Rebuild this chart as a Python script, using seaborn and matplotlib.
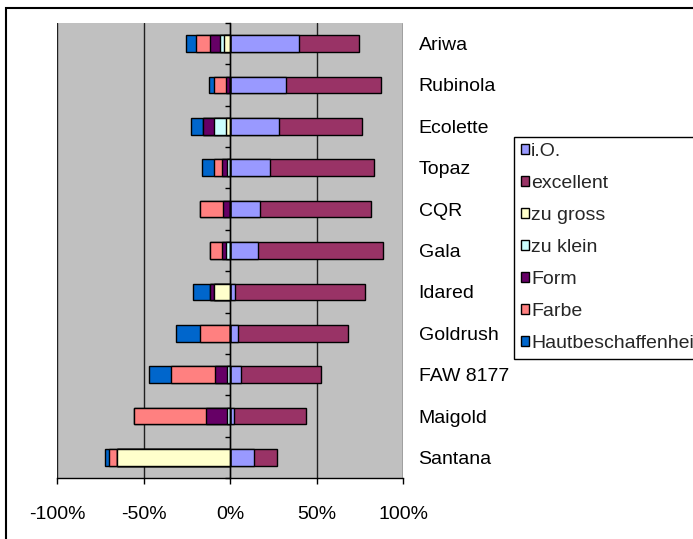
import numpy as np
import pandas as pd
import matplotlib
matplotlib.use("Agg")
import matplotlib.pyplot as plt
from matplotlib.patches import Rectangle
from matplotlib.ticker import FixedLocator, FuncFormatter
import seaborn as sns

# Apple varieties and share of fruit per quality class (percent)
sorten = ["Ariwa", "Rubinola", "Ecolette", "Topaz", "CQR", "Gala", "Idared",
          "Goldrush", "FAW 8177", "Maigold", "Santana"]
io = [39.6, 32.3, 28.3, 22.9, 16.9, 16.2, 2.5, 4.4, 6.3, 2.3, 13.5]
excellent = [34.6, 55.0, 48.1, 60.2, 64.6, 71.9, 75.4, 63.5, 46.2, 41.7, 13.7]
zu_gross = [3.9, 0.0, 2.3, 0.0, 0.0, 0.0, 9.4, 0.0, 0.0, 0.0, 65.4]
zu_klein = [2.0, 0.0, 6.9, 1.9, 0.0, 2.3, 0.0, 0.0, 1.9, 2.1, 0.0]
form = [6.0, 2.3, 6.7, 2.7, 4.4, 2.5, 2.5, 0.0, 6.7, 11.7, 0.0]
farbe = [8.1, 7.3, 0.0, 4.6, 13.3, 7.1, 0.0, 17.7, 25.8, 41.7, 4.8]
haut = [5.8, 2.5, 7.1, 7.3, 0.0, 0.0, 9.8, 13.7, 12.5, 0.0, 2.5]

x_ticks = [-100, -50, 0, 50, 100]

colors = {
    "i.O.": "#9999FF",
    "excellent": "#993366",
    "zu gross": "#FFFFCC",
    "zu klein": "#CCFFFF",
    "Form": "#660066",
    "Farbe": "#FF8080",
    "Hautbeschaffenheit": "#0066CC",
}
legend_order = ["i.O.", "excellent", "zu gross", "zu klein", "Form", "Farbe",
                "Hautbeschaffenheit"]

df = pd.DataFrame({
    "Sorte": sorten,
    "i.O.": io,
    "excellent": excellent,
    "zu gross": zu_gross,
    "zu klein": zu_klein,
    "Form": form,
    "Farbe": farbe,
    "Hautbeschaffenheit": haut,
})

# Cumulative ends: positive classes stack right of zero, defects stack left
pos_classes = ["i.O.", "excellent"]
neg_classes = ["zu gross", "zu klein", "Form", "Farbe", "Hautbeschaffenheit"]
cum = {}
run = np.zeros(len(df))
for c in pos_classes:
    run = run + df[c].to_numpy()
    cum[c] = run.copy()
run = np.zeros(len(df))
for c in neg_classes:
    run = run - df[c].to_numpy()
    cum[c] = run.copy()
for c, v in cum.items():
    df["cum_" + c] = v

sns.set_theme(style="white")
plt.rcParams["font.family"] = ["Liberation Sans", "DejaVu Sans"]
plt.rcParams["axes.unicode_minus"] = False

fig = plt.figure(figsize=(6.93, 5.39), dpi=100)
fig.patch.set_facecolor("white")
ax = fig.add_axes([57.3 / 693, 1 - 478.3 / 539, (403.3 - 57.3) / 693,
                   (478.3 - 22.7) / 539])
ax.set_facecolor("#C0C0C0")

# Outermost segments first, inner segments painted over them
draw_order = ["excellent", "i.O.", "Hautbeschaffenheit", "Farbe", "Form",
              "zu klein", "zu gross"]
for c in draw_order:
    sns.barplot(data=df, x="cum_" + c, y="Sorte", orient="h", color=colors[c],
                saturation=1, width=0.4, edgecolor="black", linewidth=1.0,
                label=c, ax=ax, zorder=3)

handles, labels = ax.get_legend_handles_labels()
if ax.get_legend() is not None:
    ax.get_legend().remove()

ax.set_xlim(-100, 100)
ax.set_ylim(len(sorten) - 0.5, -0.5)
ax.set_xlabel("")
ax.set_ylabel("")

ax.xaxis.set_major_locator(FixedLocator(x_ticks))
ax.xaxis.set_major_formatter(FuncFormatter(lambda v, p: f"{int(round(v))}%"))
ax.grid(axis="x", color="#202020", linewidth=1.0, zorder=1)
ax.grid(axis="y", visible=False)
ax.set_axisbelow(True)

for s in ["top", "right"]:
    ax.spines[s].set_visible(False)
ax.spines["bottom"].set_color("black")
ax.spines["bottom"].set_linewidth(1.0)
ax.spines["left"].set_position(("data", 0))
ax.spines["left"].set_color("black")
ax.spines["left"].set_linewidth(1.0)
ax.spines["left"].set_zorder(4)

ax.tick_params(axis="x", which="major", bottom=True, length=4.5, width=1,
               color="black", direction="out", pad=15.5, labelsize=14,
               labelcolor="black")
ax.yaxis.set_minor_locator(FixedLocator(np.arange(-0.5, len(sorten), 1.0)))
ax.tick_params(axis="y", which="minor", left=True, right=False, length=3.6,
               width=1, color="black", direction="out")
ax.tick_params(axis="y", which="major", left=False, right=False, length=0,
               labelleft=False, labelright=True, pad=11, labelsize=14,
               labelcolor="black")

hmap = dict(zip(labels, handles))
leg = fig.legend([hmap[l] for l in legend_order], legend_order,
                 loc="upper left", bbox_to_anchor=(514.3 / 693, 1 - 136.5 / 539),
                 fontsize=14, frameon=True, fancybox=False, shadow=False,
                 framealpha=1, edgecolor="black", handlelength=0.4,
                 handleheight=0.4, handletextpad=0.12, labelspacing=0.77,
                 borderpad=0.35, borderaxespad=0)
leg.get_frame().set_linewidth(1.0)

# Chart area frame
fig.patches.append(Rectangle((5.7 / 693, -0.2), 1.5, 1 - 8.3 / 539 + 0.2,
                             transform=fig.transFigure, fill=False,
                             edgecolor="black", linewidth=1.5))

fig.savefig("out.png", dpi=100)
